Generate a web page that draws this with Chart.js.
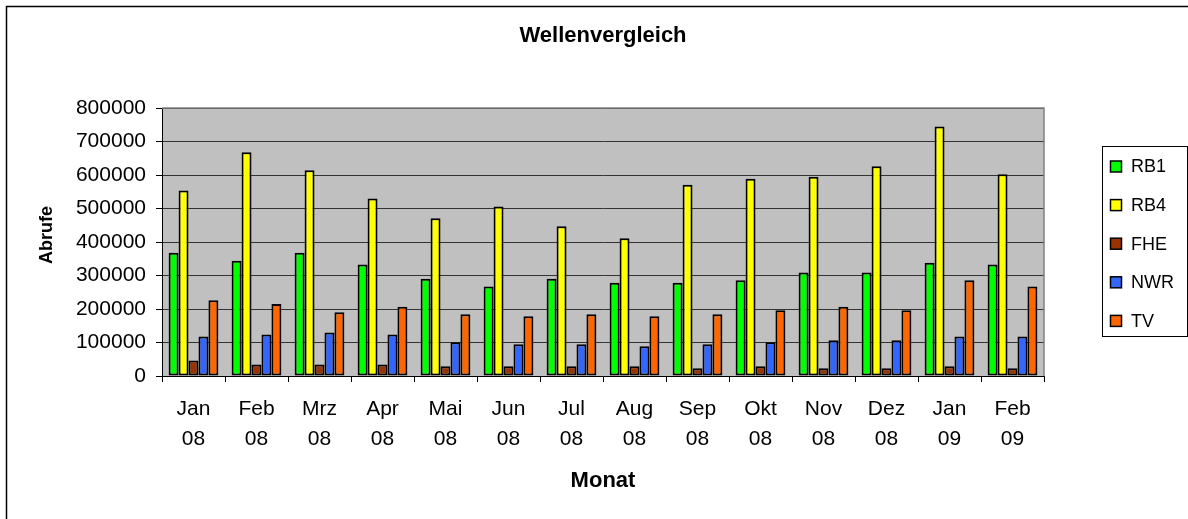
<!DOCTYPE html>
<html>
<head>
<meta charset="utf-8">
<script src="https://cdn.jsdelivr.net/npm/chart.js@4/dist/chart.umd.min.js"></script>
<style>
  html, body { margin: 0; padding: 0; background: #fff; }
  #wrap { width: 1188px; height: 519px; position: relative; }
</style>
</head>
<body>
<div id="wrap"><canvas id="c" width="1188" height="519"></canvas></div>
<script>
const months = ["Jan", "Feb", "Mrz", "Apr", "Mai", "Jun", "Jul", "Aug", "Sep", "Okt", "Nov", "Dez", "Jan", "Feb"];
const years  = ["08", "08", "08", "08", "08", "08", "08", "08", "08", "08", "08", "08", "09", "09"];
const seriesNames = ["RB1", "RB4", "FHE", "NWR", "TV"];
const rb1 = [368000, 344000, 368000, 333000, 290000, 267000, 290000, 278000, 278000, 286000, 309000, 309000, 338000, 333000];
const rb4 = [554000, 668000, 614000, 530000, 471000, 506000, 447000, 411000, 571000, 589000, 595000, 626000, 745000, 602000];
const fhe = [46000, 34000, 34000, 34000, 29000, 29000, 29000, 29000, 23000, 29000, 23000, 23000, 29000, 23000];
const nwr = [118000, 124000, 130000, 124000, 101000, 95000, 95000, 89000, 95000, 101000, 107000, 107000, 118000, 118000];
const tv  = [226000, 215000, 190000, 207000, 184000, 178000, 184000, 178000, 184000, 196000, 207000, 196000, 286000, 267000];
const yTicks = [0, 100000, 200000, 300000, 400000, 500000, 600000, 700000, 800000];
const yTitle = "Abrufe";

const colors = ["#00FF00", "#FFFF00", "#993300", "#3366FF", "#FF6600"];
const values = [rb1, rb4, fhe, nwr, tv];
const FONT = "'Liberation Sans', Arial, sans-serif";

Chart.defaults.color = "#000";
Chart.defaults.font.family = FONT;

const plotBg = {
  id: "plotBg",
  beforeDraw(chart) {
    const { ctx, chartArea: a } = chart;
    ctx.save();
    ctx.fillStyle = "#C0C0C0";
    ctx.fillRect(a.left, a.top, a.right - a.left, a.bottom - a.top);
    ctx.restore();
  },
  afterDatasetsDraw(chart) {
    const { ctx, chartArea: a } = chart;
    ctx.save();
    ctx.strokeStyle = "#808080";
    ctx.lineWidth = 1.5;
    ctx.beginPath();
    ctx.moveTo(a.left, a.top);
    ctx.lineTo(a.right, a.top);
    ctx.lineTo(a.right, a.bottom);
    ctx.stroke();
    ctx.restore();
  },
  afterDraw(chart) {
    const { ctx } = chart;
    ctx.save();
    // outer chart border (partly cropped)
    ctx.strokeStyle = "#000";
    ctx.lineWidth = 1.5;
    ctx.beginPath();
    ctx.moveTo(6.5, 519);
    ctx.lineTo(6.5, 6.5);
    ctx.lineTo(1188, 6.5);
    ctx.stroke();
    // y axis title
    ctx.save();
    ctx.translate(47, 235);
    ctx.rotate(-Math.PI / 2);
    ctx.font = "bold 18px " + FONT;
    ctx.fillStyle = "#000";
    ctx.textAlign = "center";
    ctx.textBaseline = "middle";
    ctx.fillText(yTitle, 0, 0);
    ctx.restore();
    // legend box
    const bx = 1102.5, by = 146.5, bw = 85, bh = 190;
    ctx.fillStyle = "#fff";
    ctx.fillRect(bx, by, bw, bh);
    ctx.strokeStyle = "#000";
    ctx.lineWidth = 1;
    ctx.strokeRect(bx, by, bw, bh);
    ctx.font = "18px " + FONT;
    ctx.textBaseline = "middle";
    ctx.textAlign = "left";
    chart.data.datasets.forEach((ds, i) => {
      const cy = 166.5 + i * 38.6;
      ctx.fillStyle = ds.backgroundColor;
      ctx.fillRect(1110.5, cy - 5.5, 11, 11);
      ctx.strokeStyle = "#000";
      ctx.lineWidth = 1.5;
      ctx.strokeRect(1110.5, cy - 5.5, 11, 11);
      ctx.fillStyle = "#000";
      ctx.fillText(ds.label, 1131, cy + 1);
    });
    ctx.restore();
  }
};

new Chart(document.getElementById("c"), {
  type: "bar",
  data: {
    labels: months.map((m, i) => [m, years[i]]),
    datasets: seriesNames.map((name, i) => ({
      label: name,
      data: values[i],
      backgroundColor: colors[i],
      borderColor: "#000",
      borderWidth: 2,
      borderSkipped: false,
      categoryPercentage: 0.79,
      barPercentage: 1.0
    }))
  },
  options: {
    responsive: false,
    animation: false,
    devicePixelRatio: 1,
    layout: { padding: { left: 0, right: 144, top: 0, bottom: 0 } },
    plugins: {
      legend: { display: false },
      tooltip: { enabled: false },
      title: {
        display: true,
        text: "Wellenvergleich",
        fullSize: false,
        color: "#000",
        font: { size: 22, weight: "bold", family: FONT },
        padding: { top: 23, bottom: 58.6 }
      }
    },
    scales: {
      x: {
        afterFit(scale) { scale.height = 143; },
        grid: {
          display: true,
          drawOnChartArea: false,
          drawTicks: true,
          tickLength: 6,
          color: "#000",
          offset: true
        },
        border: { display: true, color: "#000", width: 1 },
        ticks: {
          maxRotation: 0,
          autoSkip: false,
          padding: 12,
          color: "#000",
          font: { size: 21, family: FONT, lineHeight: 1.43 }
        },
        title: {
          display: true,
          text: "Monat",
          color: "#000",
          font: { size: 22, weight: "bold", family: FONT },
          padding: { top: 0, bottom: 25 }
        }
      },
      y: {
        min: 0,
        max: 800000,
        afterFit(scale) { scale.width = 162; },
        afterBuildTicks(scale) { scale.ticks = yTicks.map(v => ({ value: v })); },
        grid: {
          color: "#333",
          lineWidth: 1,
          drawTicks: true,
          tickLength: 6,
          tickColor: "#000"
        },
        border: { display: true, color: "#000", width: 1 },
        ticks: {
          padding: 10,
          color: "#000",
          font: { size: 21, family: FONT },
          callback: (v) => String(v)
        },
        title: { display: false }
      }
    }
  },
  plugins: [plotBg]
});
</script>
</body>
</html>
